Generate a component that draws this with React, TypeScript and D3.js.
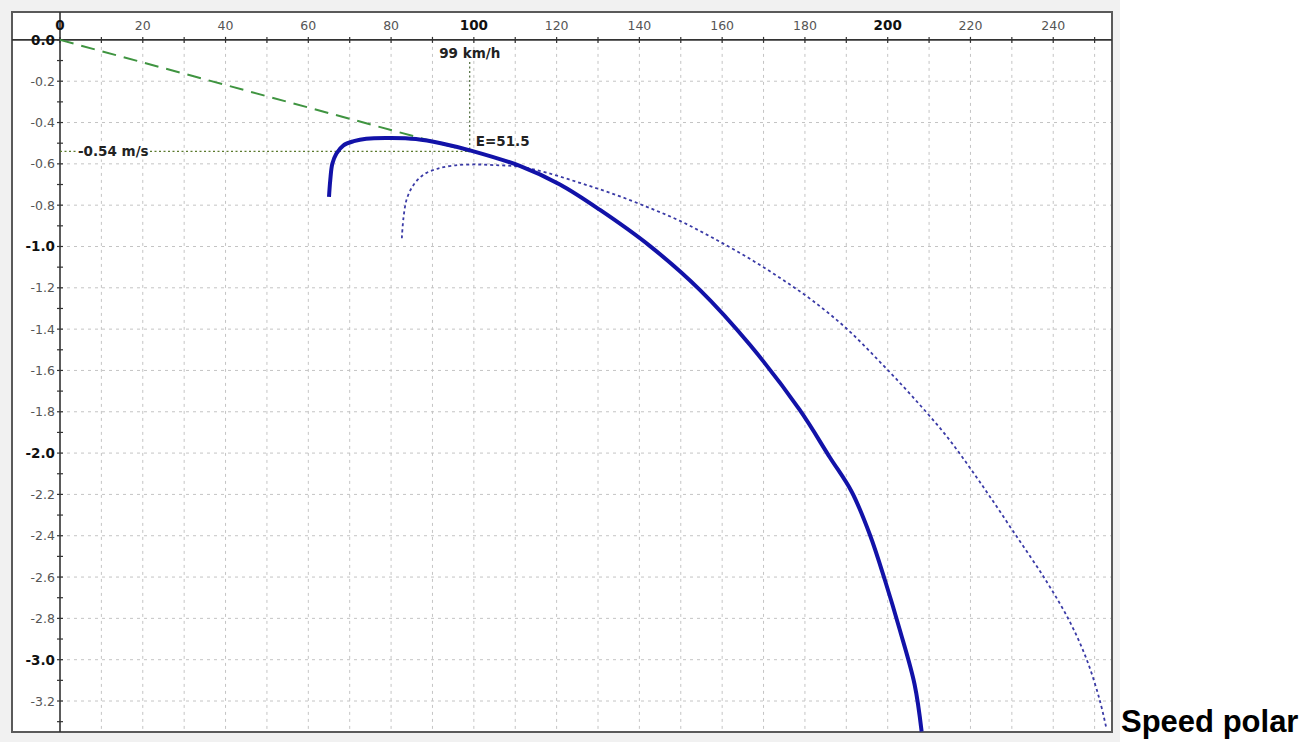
import React from 'react';
import * as d3 from 'd3';

// speed polar: speed (km/h) and sink rate (m/s)
const polarSpeed = [65.0, 65.3, 65.8, 66.8, 68.5, 71, 74, 80, 86, 92, 99.5, 111.1, 120.8, 130.4, 142.5, 154.6, 166.7, 178.7, 186, 191.3, 195.7, 199.3, 202.9, 206.5, 208.2]
const polarSink = [-0.76, -0.68, -0.60, -0.55, -0.51, -0.49, -0.478, -0.475, -0.48, -0.50, -0.537, -0.61, -0.70, -0.822, -0.997, -1.21, -1.476, -1.79, -2.02, -2.187, -2.395, -2.613, -2.854, -3.12, -3.348]

// second (dotted) polar
const polar2Speed = [82.6, 83.0, 83.8, 85.5, 88, 91, 95, 100, 105, 111.1, 117.6, 125.6, 133.6, 141.8, 149.8, 157.7, 165.9, 173.9, 181.9, 190.1, 198.1, 206.0, 214.3, 222.2, 230.2, 238.4, 244.0, 248.1, 251.2, 252.9]
const polar2Sink = [-0.96, -0.86, -0.77, -0.70, -0.65, -0.625, -0.608, -0.603, -0.606, -0.614, -0.643, -0.692, -0.745, -0.808, -0.876, -0.958, -1.05, -1.151, -1.263, -1.398, -1.558, -1.727, -1.92, -2.138, -2.375, -2.622, -2.816, -3.0, -3.193, -3.338]

// best glide point
const bestSpeed = 99
const bestSink = -0.54
const bestLabel = 'E=51.5'
const speedLabel = '99 km/h'
const sinkLabel = '-0.54 m/s'

const xTicks = [0, 20, 40, 60, 80, 100, 120, 140, 160, 180, 200, 220, 240]
const xMinor = [10, 30, 50, 70, 90, 110, 130, 150, 170, 190, 210, 230, 250]
const yTicks = [0, -0.2, -0.4, -0.6, -0.8, -1.0, -1.2, -1.4, -1.6, -1.8, -2.0, -2.2, -2.4, -2.6, -2.8, -3.0, -3.2]
const yMinor = [-0.1, -0.3, -0.5, -0.7, -0.9, -1.1, -1.3, -1.5, -1.7, -1.9, -2.1, -2.3, -2.5, -2.7, -2.9, -3.1, -3.3]
const boldX = [0, 100, 200]
const boldY = [0, -1.0, -2.0, -3.0]

const title = 'Speed polar'

export default function App() {
  const frame = { left: 12, top: 12, right: 1112, bottom: 732 }

  const x = d3.scaleLinear().domain([-11.6, 254.2]).range([frame.left, frame.right])
  const y = d3.scaleLinear().domain([0.135, -3.35]).range([frame.top, frame.bottom])

  const line = d3.line<[number, number]>()
    .x(d => x(d[0]))
    .y(d => y(d[1]))
    .curve(d3.curveCatmullRom.alpha(0.5))

  const solid = polarSpeed.map((s, i) => [s, polarSink[i]] as [number, number])
  const dotted = polar2Speed.map((s, i) => [s, polar2Sink[i]] as [number, number])

  const x0 = x(0)
  const y0 = y(0)
  const sans = '"DejaVu Sans", Verdana, sans-serif'
  const gridX = [...xTicks, ...xMinor].filter(v => v > 0)
  const gridY = yTicks.filter(v => v < 0)

  return (
    <svg width={1310} height={747} style={{ position: 'absolute', left: 0, top: 0 }}>
      <rect x={0} y={0} width={1120} height={742} fill="#f1f1f1" />
      <rect x={frame.left} y={frame.top} width={frame.right - frame.left} height={frame.bottom - frame.top}
        fill="#fff" stroke="#5a5a5a" strokeWidth={2} />

      {/* grid */}
      {gridX.map(v => (
        <line key={'gx' + v} x1={x(v)} x2={x(v)} y1={y0} y2={frame.bottom - 1}
          stroke="#c4c4c4" strokeWidth={1} strokeDasharray="3,4" />
      ))}
      {gridY.map(v => (
        <line key={'gy' + v} x1={x0} x2={frame.right - 1} y1={y(v)} y2={y(v)}
          stroke="#c4c4c4" strokeWidth={1} strokeDasharray="3,4" />
      ))}

      {/* axes */}
      <line x1={frame.left} x2={frame.right} y1={y0} y2={y0} stroke="#333" strokeWidth={1.6} />
      <line x1={x0} x2={x0} y1={frame.top} y2={frame.bottom} stroke="#333" strokeWidth={1.6} />
      {[...xTicks, ...xMinor].map(v => (
        <line key={'tx' + v} x1={x(v)} x2={x(v)} y1={y0 - 3} y2={y0 + 3} stroke="#333" strokeWidth={1.2} />
      ))}
      {[...yTicks, ...yMinor].map(v => (
        <line key={'ty' + v} x1={x0 - 3} x2={x0 + 3} y1={y(v)} y2={y(v)} stroke="#333" strokeWidth={1.2} />
      ))}
      {xTicks.map(v => {
        const b = boldX.includes(v)
        return (
          <text key={'lx' + v} x={x(v)} y={y0 - 10} textAnchor="middle" fontFamily={sans}
            fontSize={b ? 13.5 : 12.5} fontWeight={b ? 'bold' : 'normal'} fill={b ? '#111' : '#555'}>{v}</text>
        )
      })}
      {yTicks.map(v => {
        const b = boldY.includes(v)
        return (
          <text key={'ly' + v} x={x0 - 5} y={y(v)} dy="0.36em" textAnchor="end" fontFamily={sans}
            fontSize={b ? 13.5 : 12.5} fontWeight={b ? 'bold' : 'normal'} fill={b ? '#111' : '#555'}>{v.toFixed(1)}</text>
        )
      })}

      {/* glide line and guides */}
      <line x1={x0} y1={y0} x2={x(bestSpeed)} y2={y(bestSink)} stroke="#3f9440" strokeWidth={2} strokeDasharray="14,8" />
      <line x1={x0} x2={x(bestSpeed)} y1={y(bestSink)} y2={y(bestSink)} stroke="#5c7a2e" strokeWidth={1.2} strokeDasharray="2,2.5" />
      <line x1={x(bestSpeed)} x2={x(bestSpeed)} y1={62} y2={y(bestSink)} stroke="#4d6b3a" strokeWidth={1.2} strokeDasharray="2,2.5" />
      <rect x={x0 + 17} y={y(bestSink) - 8} width={73} height={16} fill="#fff" />
      <text x={x0 + 18} y={y(bestSink)} dy="0.36em" fontFamily={sans} fontSize={13.5} fontWeight="bold" fill="#222">{sinkLabel}</text>
      <text x={x(bestSpeed)} y={58} textAnchor="middle" fontFamily={sans} fontSize={13.5} fontWeight="bold" fill="#222">{speedLabel}</text>
      <text x={x(bestSpeed) + 6} y={y(bestSink) - 5} fontFamily={sans} fontSize={13.5} fontWeight="bold" fill="#222">{bestLabel}</text>

      {/* polars */}
      <path d={line(dotted) || ''} fill="none" stroke="#3a3aa6" strokeWidth={1.8} strokeDasharray="3,3" />
      <path d={line(solid) || ''} fill="none" stroke="#1212a8" strokeWidth={4} strokeLinecap="butt" />

      <text x={1121} y={732} fontFamily='"Liberation Sans", Arial, sans-serif' fontSize={31} fontWeight="bold" fill="#000">{title}</text>
    </svg>
  )
}
